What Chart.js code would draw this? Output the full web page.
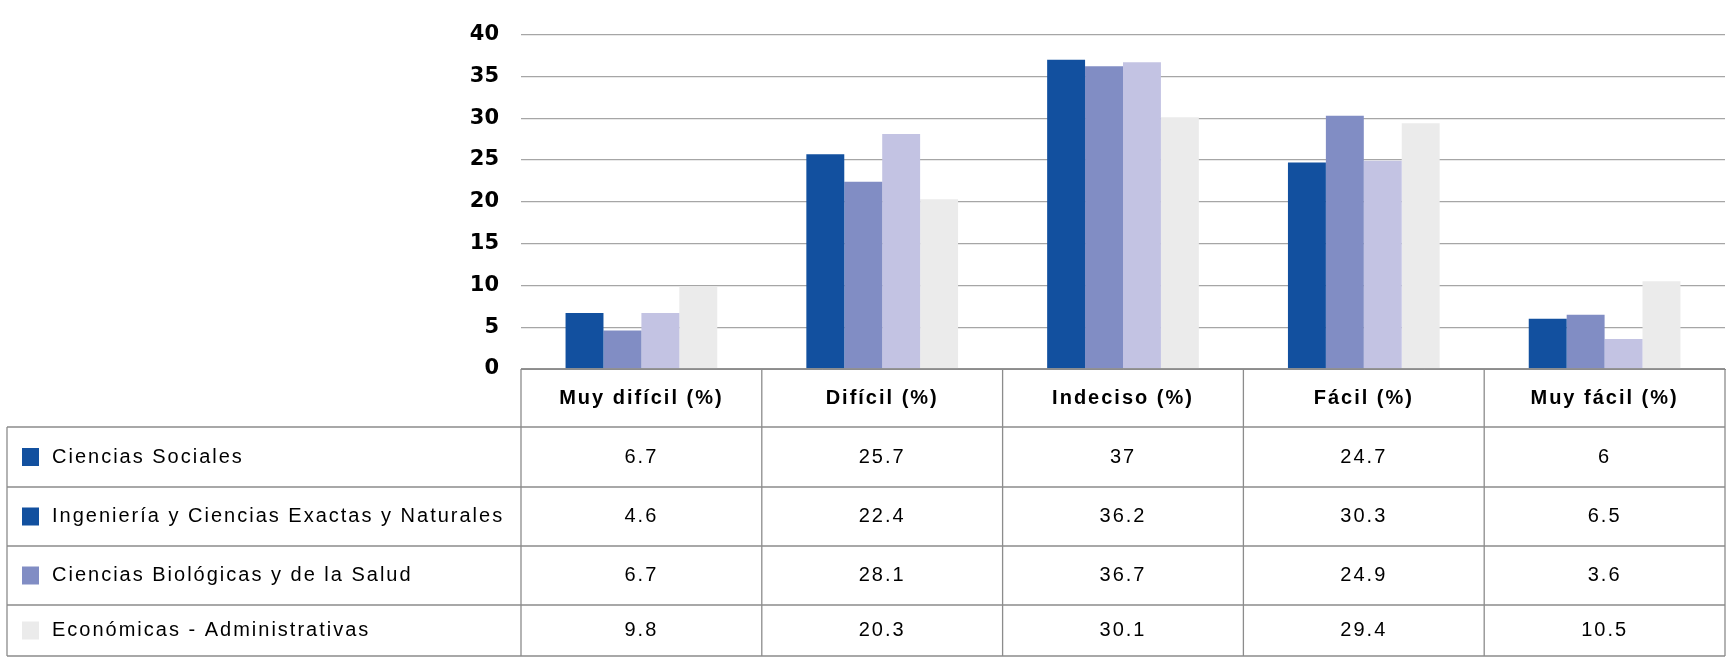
<!DOCTYPE html>
<html><head><meta charset="utf-8">
<script src="https://cdn.jsdelivr.net/npm/chart.js@4"></script>
<style>html,body{margin:0;padding:0;background:#fff}#w{width:1726px;height:662px}</style>
</head><body><div id="w"><canvas id="c"></canvas></div>
<script>
const categories = ["Muy difícil (%)", "Difícil (%)", "Indeciso (%)", "Fácil (%)", "Muy fácil (%)"];
const seriesNames = ["Ciencias Sociales", "Ingeniería y Ciencias Exactas y Naturales", "Ciencias Biológicas y de la Salud", "Económicas - Administrativas"];
const cienciasSociales = [6.7, 25.7, 37, 24.7, 6];
const ingenieria = [4.6, 22.4, 36.2, 30.3, 6.5];
const biologicas = [6.7, 28.1, 36.7, 24.9, 3.6];
const economicas = [9.8, 20.3, 30.1, 29.4, 10.5];
const yTicks = [0, 5, 10, 15, 20, 25, 30, 35, 40];
const barColors = ["#12509f", "#818dc4", "#c3c3e3", "#ebebeb"];
const legendColors = ["#12509f", "#12509f", "#818dc4", "#ebebeb"];
const allSeries = [cienciasSociales, ingenieria, biologicas, economicas];

const rowEdges = [369, 427, 487, 546, 605, 656];
const tablePlugin = {
  id: 'table',
  afterDraw(chart) {
    const ctx = chart.ctx, x = chart.scales.x, area = chart.chartArea;
    const n = categories.length;
    const w = (area.right - area.left) / n;
    const cols = []; for (let i = 0; i <= n; i++) cols.push(area.left + i * w);
    ctx.save();
    ctx.strokeStyle = '#8c8c8c'; ctx.lineWidth = 1.3;
    ctx.beginPath();
    ctx.moveTo(area.left, rowEdges[0]); ctx.lineTo(area.right, rowEdges[0]);
    for (let r = 1; r < rowEdges.length; r++) { ctx.moveTo(7, rowEdges[r]); ctx.lineTo(area.right, rowEdges[r]); }
    cols.forEach(cx => { ctx.moveTo(cx, rowEdges[0]); ctx.lineTo(cx, rowEdges[rowEdges.length-1]); });
    ctx.moveTo(7, rowEdges[1]); ctx.lineTo(7, rowEdges[rowEdges.length-1]);
    ctx.stroke();
    ctx.textAlign = 'center'; ctx.textBaseline = 'middle'; ctx.fillStyle = '#000';
    ctx.letterSpacing = '2px';
    ctx.font = 'bold 20px "Liberation Sans", Arial, sans-serif';
    categories.forEach((c, i) => ctx.fillText(c, x.getPixelForValue(i), (rowEdges[0] + rowEdges[1]) / 2));
    ctx.font = '20px "Liberation Sans", Arial, sans-serif';
    allSeries.forEach((s, r) => {
      const cy = (rowEdges[r+1] + rowEdges[r+2]) / 2;
      s.forEach((v, i) => ctx.fillText(String(v), x.getPixelForValue(i), cy));
      ctx.fillStyle = legendColors[r]; ctx.fillRect(22, cy - 9, 17, 18);
      ctx.fillStyle = '#000'; ctx.textAlign = 'left';
      ctx.fillText(seriesNames[r], 52, cy);
      ctx.textAlign = 'center';
    });
    ctx.restore();
  }
};

new Chart(document.getElementById('c'), {
  type: 'bar',
  data: { labels: categories, datasets: allSeries.map((d, i) => ({ label: seriesNames[i], data: d, backgroundColor: barColors[i], borderWidth: 0 })) },
  options: {
    responsive: true, maintainAspectRatio: false, animation: false,
    layout: { padding: { top: 32, bottom: 293, right: 1, left: 0 } },
    plugins: { legend: { display: false }, tooltip: { enabled: false } },
    datasets: { bar: { categoryPercentage: 0.63, barPercentage: 1 } },
    scales: {
      x: { ticks: { display: false }, grid: { display: false, drawTicks: false }, border: { display: true, color: '#8c8c8c' } },
      y: { min: 0, max: 40, afterFit(s) { s.width = 521; },
        afterBuildTicks(s) { s.ticks = yTicks.map(v => ({ value: v })); },
        ticks: { padding: 22, color: '#000', font: { family: '"DejaVu Sans", sans-serif', size: 21, weight: 'bold' } },
        grid: { color: '#a6a6a6', lineWidth: 1.3, drawTicks: false }, border: { display: false } }
    }
  },
  plugins: [tablePlugin]
});
</script></body></html>
